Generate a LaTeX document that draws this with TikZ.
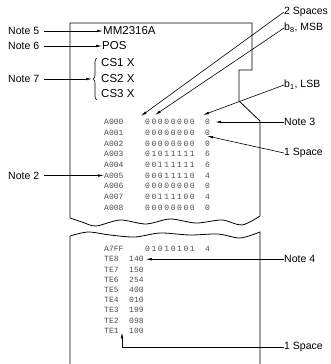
\documentclass[tikz,border=0pt]{standalone}
\usepackage{fontspec}
\setmainfont{Liberation Sans}
\newfontfamily\printfont{Liberation Mono}
\newfontfamily\spacedfont[LetterSpace=20]{Liberation Mono}
\usetikzlibrary{arrows.meta,decorations.pathreplacing}

\begin{document}
\begin{tikzpicture}[x=1pt,y=-1pt,>={Latex[length=6pt,width=2.6pt]},
  lbl/.style={font=\fontsize{10.5}{12}\selectfont,inner sep=0pt,anchor=west},
  tapetext/.style={font=\fontsize{11.5}{13}\selectfont,inner sep=0pt,anchor=west},
  prt/.style={font=\printfont\fontsize{8}{9}\selectfont,text=black!70,inner sep=0pt,anchor=west},
  prtwide/.style={prt,font=\spacedfont\fontsize{8}{9}\selectfont},
  lead/.style={->,line width=0.6pt},
  paper/.style={line width=0.8pt}]
  \useasboundingbox (0,0) rectangle (330,364);

  % paper tape, upper piece and lower piece
  \draw[paper] (70,218) -- (70,23) -- (252,23) -- (252,70) -- (239,70) -- (239,101) -- (260,121) -- (260,216)
    plot[smooth] coordinates {(260,216) (242,225) (222,220) (196,223) (170,219) (146,224) (120,220) (96,226) (82,222) (70,218)};
  \draw[paper] (70,364) -- (70,236)
    plot[smooth] coordinates {(70,236) (88,232) (110,235) (135,237) (160,233) (190,235) (218,234) (240,238) (260,232)}
    -- (260,364);

  % header lines on the tape
  \node[tapetext] (mm) at (103,31) {MM2316A};
  \node[tapetext] (pos) at (102,46) {POS};
  \node[tapetext] (cs1) at (101,63) {CS1 X};
  \node[tapetext] (cs2) at (101,79) {CS2 X};
  \node[tapetext] (cs3) at (101,94) {CS3 X};
  \draw[line width=0.6pt,decorate,decoration={brace,amplitude=4pt}] (97,100) -- (97,58);
  \coordinate (brtip) at (92,79);

  % printed rows, first block
  \node[prt] (a0) at (104,122) {A000};
  \node[prtwide] (b0) at (145,122) {00000000};
  \node[prt] (c0) at (205,122) {0};
  \node[prt] (a1) at (104,132.7) {A001};
  \node[prtwide] (b1) at (145,132.7) {00000000};
  \node[prt] (c1) at (205,132.7) {0};
  \node[prt] (a2) at (104,143.4) {A002};
  \node[prtwide] (b2) at (145,143.4) {00000000};
  \node[prt] (c2) at (205,143.4) {0};
  \node[prt] (a3) at (104,154.1) {A003};
  \node[prtwide] (b3) at (145,154.1) {01011111};
  \node[prt] (c3) at (205,154.1) {6};
  \node[prt] (a4) at (104,164.8) {A004};
  \node[prtwide] (b4) at (145,164.8) {00111111};
  \node[prt] (c4) at (205,164.8) {6};
  \node[prt] (a5) at (104,175.5) {A005};
  \node[prtwide] (b5) at (145,175.5) {00011110};
  \node[prt] (c5) at (205,175.5) {4};
  \node[prt] (a6) at (104,186.2) {A006};
  \node[prtwide] (b6) at (145,186.2) {00000000};
  \node[prt] (c6) at (205,186.2) {0};
  \node[prt] (a7) at (104,196.9) {A007};
  \node[prtwide] (b7) at (145,196.9) {00111100};
  \node[prt] (c7) at (205,196.9) {4};
  \node[prt] (a8) at (104,207.6) {A008};
  \node[prtwide] (b8) at (145,207.6) {00000000};
  \node[prt] (c8) at (205,207.6) {0};

  % printed rows, last block
  \node[prt] (z0) at (104,249) {A7FF};
  \node[prtwide] (zb0) at (145,249) {01010101};
  \node[prt] (zc0) at (205,249) {4};
  \node[prt] (t8) at (104,259.2) {TE8};
  \node[prt] (v8) at (129,259.2) {140};
  \node[prt] (t7) at (104,269.4) {TE7};
  \node[prt] (v7) at (129,269.4) {150};
  \node[prt] (t6) at (104,279.6) {TE6};
  \node[prt] (v6) at (129,279.6) {254};
  \node[prt] (t5) at (104,289.8) {TE5};
  \node[prt] (v5) at (129,289.8) {400};
  \node[prt] (t4) at (104,300) {TE4};
  \node[prt] (v4) at (129,300) {010};
  \node[prt] (t3) at (104,310.2) {TE3};
  \node[prt] (v3) at (129,310.2) {199};
  \node[prt] (t2) at (104,320.4) {TE2};
  \node[prt] (v2) at (129,320.4) {098};
  \node[prt] (t1) at (104,330.6) {TE1};
  \node[prt] (v1) at (129,330.6) {100};

  % notes on the left
  \node[lbl] (n5) at (8,31) {Note 5};
  \node[lbl] (n6) at (8,46) {Note 6};
  \node[lbl] (n7) at (8,79) {Note 7};
  \node[lbl] (n2) at (8,175.5) {Note 2};
  \draw[lead] (n5.east) ++(5,0) -- (mm.west);
  \draw[lead] (n6.east) ++(5,0) -- (pos.west);
  \draw[lead] (n7.east) ++(5,0) -- (brtip);
  \draw[lead] (n2.east) ++(5,0) -- (a5.west);

  % notes on the right
  \node[lbl] (sp2) at (284,12) {2 Spaces};
  \node[lbl] (msb) at (284,28) {b\textsubscript{8}, MSB};
  \node[lbl] (lsb) at (284,85) {b\textsubscript{1}, LSB};
  \node[lbl] (n3) at (284,122) {Note 3};
  \node[lbl] (sp1) at (284,153) {1 Space};
  \node[lbl] (n4) at (284,259.2) {Note 4};
  \node[lbl] (sp1b) at (284,347) {1 Space};
  \coordinate (tsp2) at (141,116);
  \coordinate (tmsb) at (155,115);
  \coordinate (tlsb) at (203,115);
  \coordinate (tsp1) at (207,136);
  \coordinate (bend) at (122,347);
  \draw[lead] (sp2.west) -- (tsp2);
  \draw[lead] (msb.west) -- (tmsb);
  \draw[lead] (lsb.west) -- (tlsb);
  \draw[lead] (n3.west) -- ([xshift=5pt]c0.east);
  \draw[lead] (sp1.west) -- (tsp1);
  \draw[lead] (n4.west) -- ([xshift=2pt]v8.east);
  \draw[lead] (sp1b.west) -- (bend) -- ([yshift=1pt]bend |- t1.south);
\end{tikzpicture}
\end{document}
